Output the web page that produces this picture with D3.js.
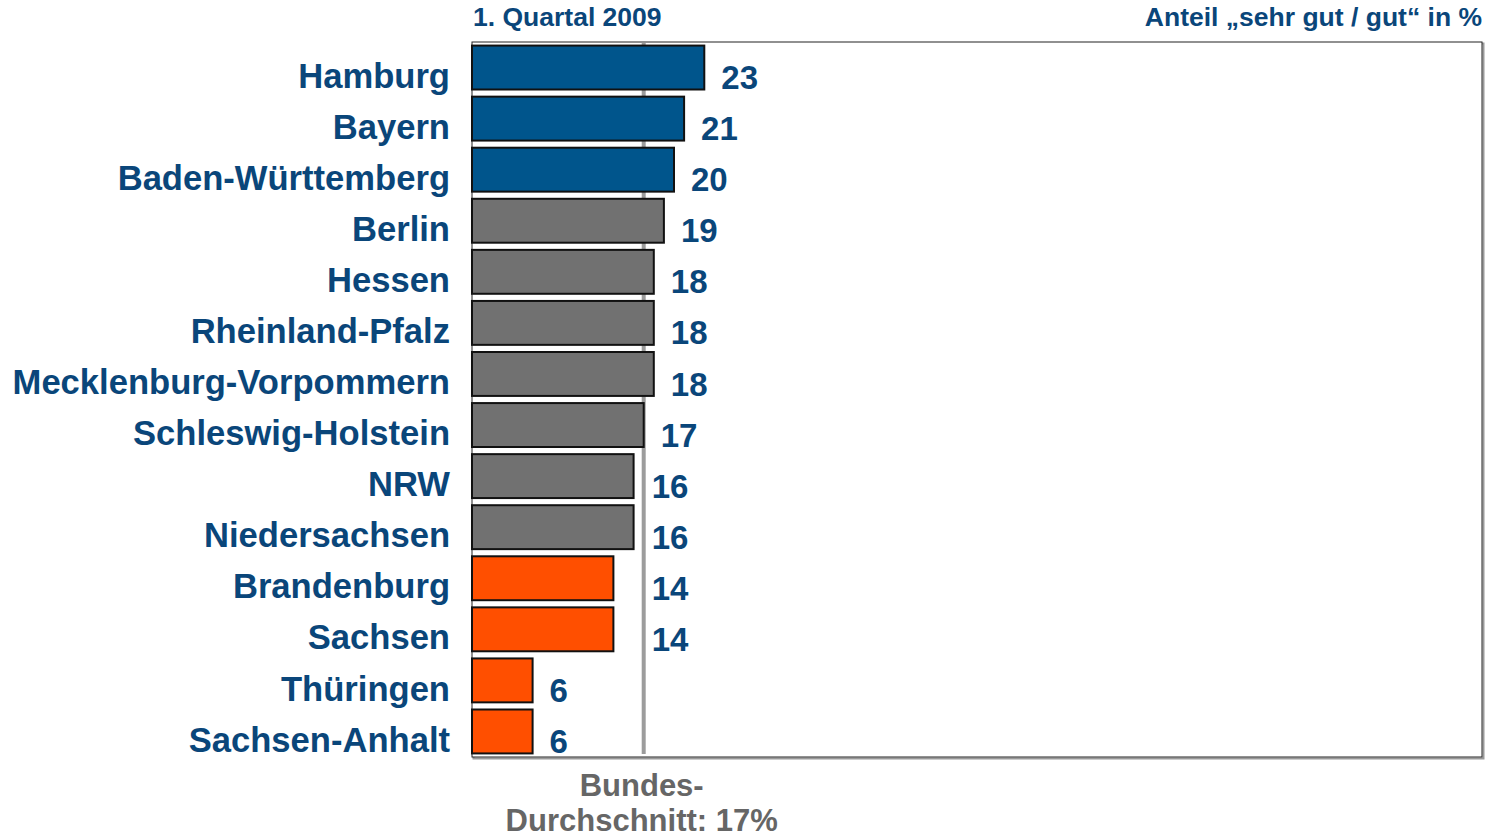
<!DOCTYPE html>
<html>
<head>
<meta charset="utf-8">
<script src="https://cdn.jsdelivr.net/npm/d3@7"></script>
<style>
  html, body { margin: 0; padding: 0; background: #fff; }
  svg { display: block; }
  text { font-family: "Liberation Sans", Arial, sans-serif; font-weight: bold; }
</style>
</head>
<body>
<svg id="chart" width="1491" height="838"></svg>
<script>
const categories = ["Hamburg", "Bayern", "Baden-Württemberg", "Berlin", "Hessen", "Rheinland-Pfalz",
  "Mecklenburg-Vorpommern", "Schleswig-Holstein", "NRW", "Niedersachsen", "Brandenburg",
  "Sachsen", "Thüringen", "Sachsen-Anhalt"];
const values = [23, 21, 20, 19, 18, 18, 18, 17, 16, 16, 14, 14, 6, 6];
const groups = ["top", "top", "top", "mid", "mid", "mid", "mid", "mid", "mid", "mid", "low", "low", "low", "low"];
const average = 17;
const titleLeft = "1. Quartal 2009";
const titleRight = "Anteil „sehr gut / gut“ in %";
const avgLabel = ["Bundes-", "Durchschnitt: 17%"];

const colors = { top: "#00558C", mid: "#717171", low: "#FF4F00" };
const textBlue = "#0A467A";

const svg = d3.select("#chart");
const m = { left: 472, right: 1482, top: 42, bottom: 757 };

const x = d3.scaleLinear().domain([0, 100]).range([m.left, m.right]);
const y = d3.scaleBand().domain(categories).range([m.top, m.bottom]).paddingInner(0.14).paddingOuter(0.07);

// frame
svg.append("rect")
  .attr("x", m.left + 1.5).attr("y", m.top + 1.5)
  .attr("width", m.right - m.left).attr("height", m.bottom - m.top)
  .attr("fill", "none").attr("stroke", "#9a9a9a").attr("stroke-width", 2);
svg.append("rect")
  .attr("x", m.left).attr("y", m.top)
  .attr("width", m.right - m.left).attr("height", m.bottom - m.top)
  .attr("fill", "#fff").attr("stroke", "#222").attr("stroke-width", 1);

// average line
svg.append("line")
  .attr("x1", x(average)).attr("x2", x(average))
  .attr("y1", m.top + 1).attr("y2", m.bottom - 3)
  .attr("stroke", "#9c9c9c").attr("stroke-width", 4);

// bars
svg.selectAll("rect.bar").data(categories).join("rect")
  .attr("class", "bar")
  .attr("x", x(0))
  .attr("y", d => y(d))
  .attr("width", (d, i) => x(values[i]) - x(0))
  .attr("height", y.bandwidth())
  .attr("fill", (d, i) => colors[groups[i]])
  .attr("stroke", "#111").attr("stroke-width", 2);

// category labels
svg.selectAll("text.cat").data(categories).join("text")
  .attr("class", "cat")
  .attr("x", m.left - 22)
  .attr("y", d => y(d) + y.bandwidth() / 2 + 8)
  .attr("dy", "0.35em")
  .attr("text-anchor", "end")
  .attr("fill", textBlue)
  .attr("font-size", 34.6)
  .text(d => d);

// value labels
svg.selectAll("text.val").data(categories).join("text")
  .attr("class", "val")
  .attr("x", (d, i) => {
    let lx = x(values[i]) + 17;
    if (lx < x(average) + 8 && lx > x(average) - 40) lx = x(average) + 8;
    return lx;
  })
  .attr("y", d => y(d) + y.bandwidth() / 2 + 10)
  .attr("dy", "0.35em")
  .attr("fill", textBlue)
  .attr("font-size", 33)
  .text((d, i) => values[i]);

// titles
svg.append("text").attr("x", m.left + 1).attr("y", 26)
  .attr("fill", textBlue).attr("font-size", 26.5).text(titleLeft);
svg.append("text").attr("x", m.right).attr("y", 26)
  .attr("text-anchor", "end")
  .attr("fill", textBlue).attr("font-size", 26.5).text(titleRight);

// average label
svg.selectAll("text.avg").data(avgLabel).join("text")
  .attr("class", "avg")
  .attr("x", x(average) - 2)
  .attr("y", (d, i) => 796 + i * 35)
  .attr("text-anchor", "middle")
  .attr("fill", "#666")
  .attr("font-size", 31)
  .text(d => d);
</script>
</body>
</html>
